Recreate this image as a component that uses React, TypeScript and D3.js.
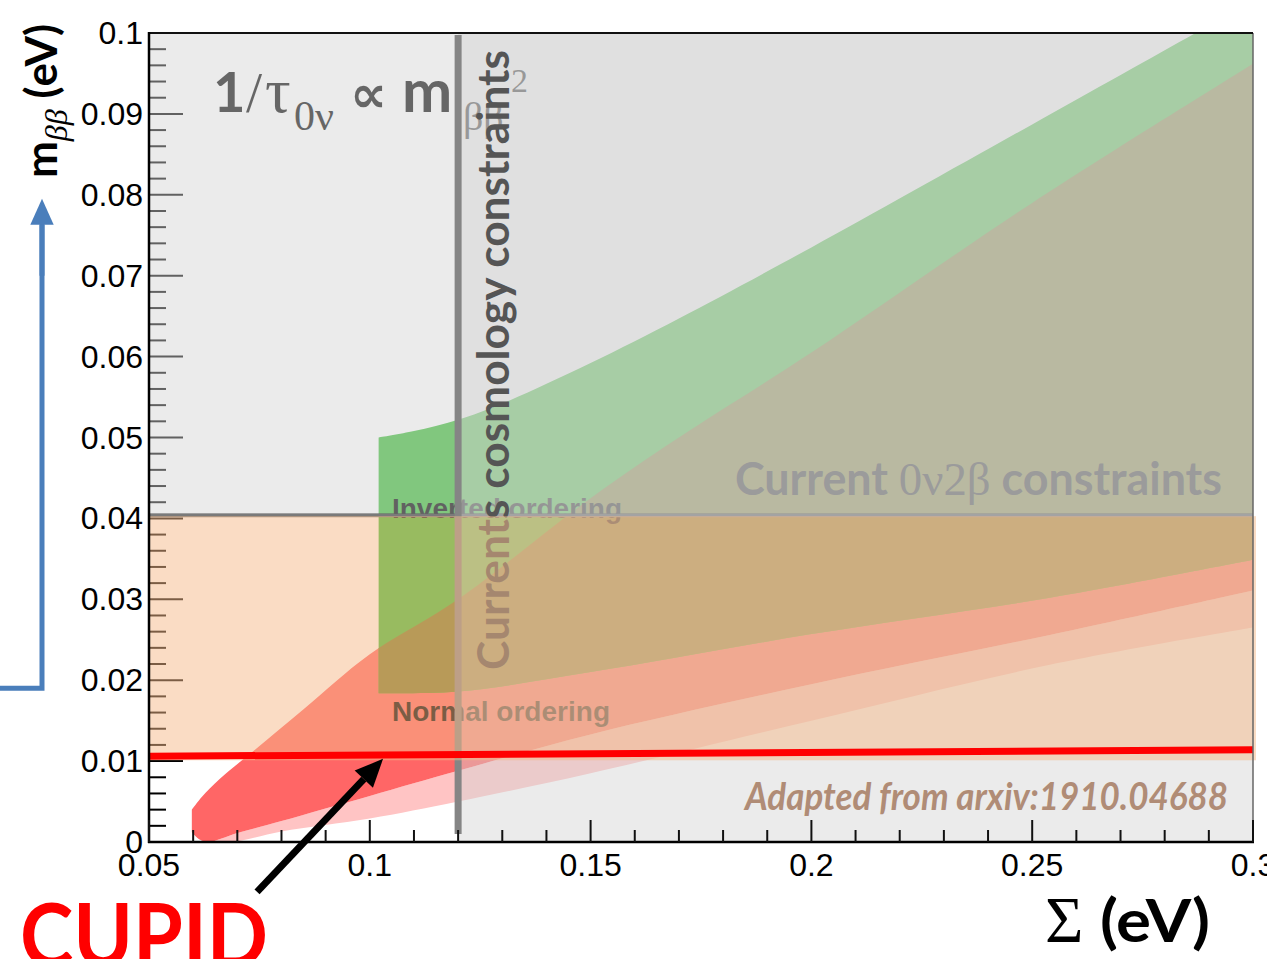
import * as d3 from 'd3';

const W = 1267;
const H = 959;

// inverted ordering (green) band
const ioUpperSigma = [0.102, 0.11, 0.12, 0.13, 0.15, 0.17, 0.2, 0.25, 0.287, 0.3];
const ioUpper = [0.05, 0.0508, 0.0522, 0.0542, 0.0592, 0.0647, 0.0735, 0.0887, 0.1, 0.104];
const ioLowerSigma = [0.102, 0.12, 0.15, 0.2, 0.254, 0.3];
const ioLower = [0.0184, 0.0186, 0.021, 0.0257, 0.0302, 0.0349];

// normal ordering (red) band: upper edge, inner lower edge, outer lower edge
const noUpperSigma = [0.0597, 0.062, 0.066, 0.074, 0.085, 0.1, 0.12, 0.15, 0.17, 0.2, 0.25, 0.3];
const noUpper = [0.004, 0.0056, 0.0078, 0.0114, 0.0164, 0.0232, 0.03, 0.0425, 0.05, 0.0605, 0.079, 0.0962];
const noLowerSigma = [0.0597, 0.0615, 0.0635, 0.07, 0.08, 0.1, 0.12, 0.15, 0.2, 0.254, 0.3];
const noLower = [0.0012, 0.0003, 0.0, 0.0011, 0.0026, 0.0057, 0.0088, 0.0133, 0.0195, 0.0256, 0.0311];
const noOuterSigma = [0.0597, 0.0635, 0.069, 0.08, 0.1, 0.12, 0.15, 0.2, 0.254, 0.3];
const noOuter = [0.0012, 0.0, 0.0, 0.0013, 0.0029, 0.005, 0.0085, 0.015, 0.0219, 0.0265];

// constraints
const cosmoSigma = 0.12;
const current0vbb = 0.0404;
const cupidSigma = [0.05, 0.3];
const cupidM = [0.0106, 0.0114];
const cupidFloor = 0.0101;

const xTickLabels = ['0.05', '0.1', '0.15', '0.2', '0.25', '0.3'];
const yTickLabels = ['0', '0.01', '0.02', '0.03', '0.04', '0.05', '0.06', '0.07', '0.08', '0.09', '0.1'];

const x = d3.scaleLinear().domain([0.05, 0.3]).range([149, 1253]);
const y = d3.scaleLinear().domain([0, 0.1]).range([842, 33]);

const edge = d3.line<[number, number]>()
  .x(d => x(d[0]))
  .y(d => y(d[1]))
  .curve(d3.curveCatmullRom.alpha(0.5));

function band(topS: number[], topM: number[], botS: number[], botM: number[]) {
  const top = topS.map((s, i) => [s, topM[i]] as [number, number]);
  const bot = botS.map((s, i) => [s, botM[i]] as [number, number]).reverse();
  return edge(top) + 'L' + (edge(bot) || '').slice(1) + 'Z';
}

const SANS = 'Lato, "Open Sans", sans-serif';
const ARIAL = '"Liberation Sans", Arial, sans-serif';
const SERIF = '"Liberation Serif", "DejaVu Serif", serif';

function Arrow({ x1, y1, x2, y2, color, width, head }: any) {
  const a = Math.atan2(y2 - y1, x2 - x1);
  const bx = x2 - head * Math.cos(a);
  const by = y2 - head * Math.sin(a);
  const w = head * 0.45;
  const pts = [
    [x2, y2],
    [bx + w * Math.sin(a), by - w * Math.cos(a)],
    [bx - w * Math.sin(a), by + w * Math.cos(a)],
  ];
  return (
    <g>
      <line x1={x1} y1={y1} x2={bx} y2={by} stroke={color} strokeWidth={width} />
      <polygon points={pts.map(p => p.join(',')).join(' ')} fill={color} />
    </g>
  );
}

export default function App() {
  const [x0, x1] = x.range();
  const [yb, yt] = y.range();
  const ioPath = band(ioUpperSigma, ioUpper, ioLowerSigma, ioLower);
  const noPath = band(noUpperSigma, noUpper, noLowerSigma, noLower);
  const noOuterPath = band(noLowerSigma, noLower, noOuterSigma, noOuter);
  const xc = x(cosmoSigma);
  const y04 = y(current0vbb);

  const yTicks = d3.range(0, 51).map(i => i * 0.002);
  const xTicks = d3.range(0, 26).map(i => 0.05 + i * 0.01);

  const cupidLine = d3.line<number>().x((_, i) => x(cupidSigma[i])).y(d => y(d));
  const tipS = 0.103;
  const tipM = cupidM[0] + (cupidM[1] - cupidM[0]) * (tipS - cupidSigma[0]) / (cupidSigma[1] - cupidSigma[0]);
  const tipX = x(tipS);
  const tipY = y(tipM) + 4;

  return (
    <svg width={W} height={H} style={{ position: 'absolute', left: 0, top: 0, background: '#fff' }}>
      <defs>
        <clipPath id="plot"><rect x={x0} y={yt} width={x1 - x0} height={yb - yt} /></clipPath>
        <clipPath id="io"><path d={ioPath} /></clipPath>
      </defs>

      <rect x={x0} y={yt} width={x1 - x0} height={yb - yt} fill="#fff" />

      {/* bands */}
      <g clipPath="url(#plot)">
        <path d={noOuterPath} fill="#ffc4c4" />
        <path d={noPath} fill="#ff6666" />
        <path d={ioPath} fill="#3bbd37" />
        <g clipPath="url(#io)"><path d={noPath} fill="#7b7b27" /></g>
      </g>

      {/* y ticks under the overlays */}
      {yTicks.map((t, i) => (
        <line key={i} x1={x0} x2={x0 + (i % 5 === 0 ? 34 : 17)} y1={y(t)} y2={y(t)} stroke="#000" strokeWidth={2} />
      ))}

      {/* labels under the overlays */}
      <text x={392} y={y04 + 3} fontFamily={ARIAL} fontWeight="bold" fontSize={27} fill="#000"
        textLength={230} lengthAdjust="spacingAndGlyphs">Inverted ordering</text>
      <text x={392} y={721} fontFamily={ARIAL} fontWeight="bold" fontSize={27} fill="#000"
        textLength={218} lengthAdjust="spacingAndGlyphs">Normal ordering</text>
      <text y={112} fill="#0a0a0a">
        <tspan x={213} fontFamily={SANS} fontWeight="bold" fontSize={56}>1</tspan>
        <tspan x={246} fontFamily={SERIF} fontSize={58}>/</tspan>
        <tspan x={265} fontFamily={SERIF} fontSize={64}>τ</tspan>
        <tspan x={294} fontFamily={SERIF} fontSize={42} dy={18}>0ν</tspan>
        <tspan x={350} fontFamily='"DejaVu Sans", sans-serif' fontWeight="bold" fontSize={52} dy={-18}>∝</tspan>
        <tspan x={402} fontFamily={SANS} fontWeight="bold" fontSize={60}>m</tspan>
        <tspan x={463} fontFamily={SERIF} fontSize={40} dy={18}>ββ</tspan>
        <tspan x={511} fontFamily={SERIF} fontSize={34} dy={-38}>2</tspan>
      </text>

      <line x1={x0} x2={x1} y1={y04} y2={y04} stroke="#7a7a7a" strokeWidth={4} />

      {/* excluded by current 0vbb searches */}
      <rect x={x0 + 1} y={yt} width={x1 - x0 - 1} height={y04 - 2 - yt} fill="rgb(211,211,211)" fillOpacity={0.46} />
      {/* excluded by cosmology */}
      <rect x={xc} y={yt} width={x1 - xc} height={yb - yt} fill="rgb(211,211,211)" fillOpacity={0.46} />

      <line x1={xc} x2={xc} y1={yt + 2} y2={yb - 8} stroke="#858585" strokeWidth={7} />
      <text transform={`translate(${xc + 51},670) rotate(-90)`} fontFamily={SANS} fontWeight="bold" fontSize={44}
        fill="#555" textLength={620} lengthAdjust="spacingAndGlyphs">Currents cosmology constraints</text>

      {/* CUPID sensitivity */}
      <rect x={x0 + 1} y={y04 + 1} width={x1 - x0 + 2} height={y(cupidFloor) - y04 - 1} fill="rgb(245,185,137)" fillOpacity={0.5} />
      <path d={cupidLine(cupidM) || ''} stroke="#ff0000" strokeWidth={7} fill="none" />

      <text x={735} y={495} fill="#9b9b9b" textLength={487} lengthAdjust="spacingAndGlyphs">
        <tspan fontFamily={SANS} fontWeight="bold" fontSize={45}>Current </tspan>
        <tspan fontFamily={SERIF} fontSize={47}>0ν2β</tspan>
        <tspan fontFamily={SANS} fontWeight="bold" fontSize={45}> constraints</tspan>
      </text>
      <text x={745} y={810} fontFamily={SANS} fontWeight="bold" fontStyle="italic" fontSize={38} fill="#b08c76"
        textLength={483} lengthAdjust="spacingAndGlyphs">Adapted from arxiv:1910.04688</text>

      {/* frame */}
      <line x1={x1} x2={x1} y1={yt} y2={yb} stroke="#666" strokeWidth={1.5} />
      <line x1={x0 - 1} x2={x1} y1={yt} y2={yt} stroke="#111" strokeWidth={2} />
      <line x1={x0} x2={x0} y1={yt - 1} y2={yb + 1} stroke="#000" strokeWidth={2.5} />
      <line x1={x0 - 1} x2={x1 + 1} y1={yb} y2={yb} stroke="#000" strokeWidth={2.5} />
      {xTicks.map((t, i) => (
        <line key={i} x1={x(t)} x2={x(t)} y1={yb} y2={yb - (i % 5 === 0 ? 22 : 12)} stroke="#111" strokeWidth={2} />
      ))}

      {yTickLabels.map((l, i) => (
        <text key={l} x={143} y={y(i * 0.01) + 11} textAnchor="end" fontFamily={ARIAL} fontSize={32} fill="#000">{l}</text>
      ))}
      {xTickLabels.map((l, i) => (
        <text key={l} x={x(0.05 + i * 0.05)} y={876} textAnchor="middle" fontFamily={ARIAL} fontSize={32} fill="#000">{l}</text>
      ))}

      {/* axis titles */}
      <text transform="translate(57,178) rotate(-90)" fill="#000">
        <tspan fontFamily={SANS} fontWeight="bold" fontSize={44}>m</tspan>
        <tspan fontFamily={SERIF} fontStyle="italic" fontSize={32} dy={10}>ββ</tspan>
        <tspan fontFamily={SANS} fontWeight="bold" fontSize={44} dy={-10}> (eV)</tspan>
      </text>
      <text x={1045} y={942} fontFamily={SERIF} fontSize={66} fill="#000">Σ</text>
      <text x={1100} y={942} fontFamily={SANS} fontWeight="bold" fontSize={60} fill="#000"
        textLength={110} lengthAdjust="spacingAndGlyphs">(eV)</text>

      {/* annotations */}
      <polyline points={`0,${y(0.019)} 42,${y(0.019)} 42,${y(0.0765)}`} fill="none" stroke="#4a7ebb" strokeWidth={5} />
      <Arrow x1={42} y1={y(0.07)} x2={42} y2={y(0.0795)} color="#4a7ebb" width={5} head={26} />
      <Arrow x1={tipX - 126} y1={tipY + 133} x2={tipX} y2={tipY} color="#000" width={7} head={28} />
      <text x={20} y={967} fontFamily={SANS} fontWeight="bold" fontSize={88} fill="#ff0000"
        textLength={248} lengthAdjust="spacingAndGlyphs">CUPID</text>
    </svg>
  );
}
